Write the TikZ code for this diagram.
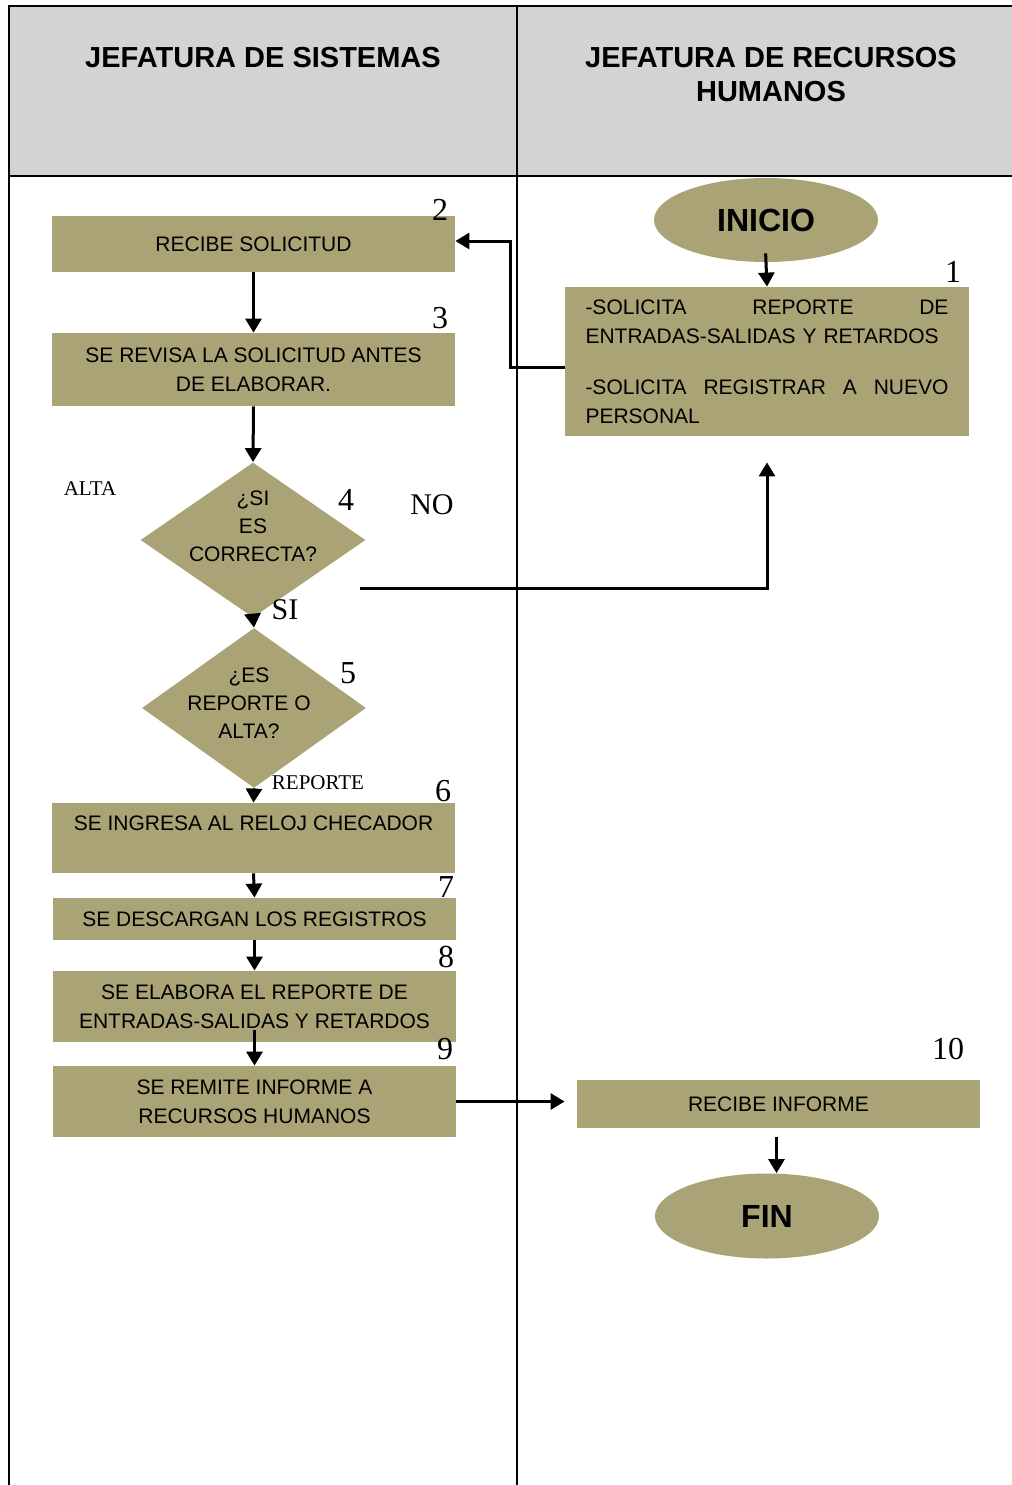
\documentclass[tikz,border=0pt]{standalone}
\usepackage{fontspec}
\setmainfont{Liberation Serif}
\newfontfamily\arial{Liberation Sans}
\usetikzlibrary{shapes,arrows.meta,positioning}
\definecolor{olivo}{HTML}{A9A375}
\definecolor{encabezado}{HTML}{D3D3D3}
\tikzset{
  caja/.style = {rectangle, fill=olivo, inner sep=0pt, align=center,
    font=\arial\fontsize{10.5}{14.5}\selectfont},% paso del proceso
  decision/.style = {diamond, fill=olivo, inner sep=0pt},% rombo de pregunta
  dtexto/.style = {align=center, font=\arial\fontsize{10.5}{14}\selectfont},
  terminal/.style = {ellipse, fill=olivo, minimum width=112pt, minimum height=42pt,
    font=\arial\bfseries\fontsize{16}{18}\selectfont},% inicio y fin
  titulo/.style = {align=center, font=\arial\bfseries\fontsize{14.5}{17}\selectfont},
  numero/.style = {font=\fontsize{16}{18}\selectfont},
  rotulo/.style = {font=\fontsize{10.5}{12}\selectfont},
  flecha/.style = {-{Triangle[length=7pt,width=8pt]}, line width=1.5pt}
}
\begin{document}
\begin{tikzpicture}[x=0.5pt,y=-0.5pt]
\useasboundingbox (0,0) rectangle (1012,1485);
% encabezado y carriles
\fill[encabezado] (9,6) rectangle (1012,176);
\draw[line width=1.2pt] (9,1485) -- (9,6) -- (1012,6);
\draw[line width=1.2pt] (9,176) -- (1012,176);
\draw[line width=1.2pt] (517,6) -- (517,1485);
\node[titulo] (tsis) at (263,58) {JEFATURA DE SISTEMAS};
\node[titulo] (trh) at (771,75) {JEFATURA DE RECURSOS\\HUMANOS};

% recursos humanos
\node[terminal] (inicio) at (766,220) {INICIO};
\node[caja, minimum width=202pt, minimum height=74.5pt, text width=181.5pt, align=left]
  (b1) at (767,361.5) {-SOLICITA\hfill REPORTE\hfill DE\\ENTRADAS-SALIDAS Y RETARDOS\\[11pt]
  -SOLICITA\hfill REGISTRAR\hfill A\hfill NUEVO\\PERSONAL};

% sistemas
\node[caja, minimum width=201.5pt, minimum height=28pt] (b2) at (253.5,244) {RECIBE SOLICITUD};
\node[caja, minimum width=201.5pt, minimum height=36.5pt] (b3) at (253.5,369.5)
  {SE REVISA LA SOLICITUD ANTES\\DE ELABORAR.};
\node[decision, minimum width=112.5pt, minimum height=77.5pt] (d4) at (253,540) {};
\node[dtexto] (d4t) at (253,526) {¿SI\\ES\\CORRECTA?};
\node[decision, minimum width=112pt, minimum height=80pt] (d5) at (254,708) {};
\node[dtexto] (d5t) at (249,703) {¿ES\\REPORTE O\\ALTA?};
\node[caja, minimum width=201.5pt, minimum height=35pt] (b6) at (253.5,838)
  {SE INGRESA AL RELOJ CHECADOR\\\mbox{}};
\node[caja, minimum width=201.5pt, minimum height=21pt] (b7) at (254.5,919)
  {SE DESCARGAN LOS REGISTROS};
\node[caja, minimum width=201.5pt, minimum height=35.5pt] (b8) at (254.5,1006.5)
  {SE ELABORA EL REPORTE DE\\ENTRADAS-SALIDAS Y RETARDOS};
\node[caja, minimum width=201.5pt, minimum height=35.5pt] (b9) at (254.5,1101.5)
  {SE REMITE INFORME A\\RECURSOS HUMANOS};
\node[caja, minimum width=201.5pt, minimum height=24pt] (b10) at (778.5,1104) {RECIBE INFORME};
\node[terminal, minimum height=42.5pt] (fin) at (767,1216) {FIN};

% numeros y rotulos
\node[numero] (n1) at (953,272) {1};
\node[numero] (n2) at (440,210) {2};
\node[numero] (n3) at (440,318) {3};
\node[numero] (n4) at (346,500) {4};
\node[numero] (n5) at (348,673) {5};
\node[numero] (n6) at (443,791) {6};
\node[numero] (n7) at (446,887) {7};
\node[numero] (n8) at (446,957) {8};
\node[numero] (n9) at (445,1049) {9};
\node[numero] (n10) at (948,1049) {10};
\node[font=\fontsize{15}{17}\selectfont] (no) at (432,505) {NO};
\node[font=\fontsize{15}{17}\selectfont] (si) at (285,610) {SI};
\node[rotulo] (alta) at (90,489) {ALTA};
\node[rotulo] (rep) at (318,783) {REPORTE};

% conectores
\coordinate (noA) at (360,588);
\draw[flecha, shorten <=-4.5pt] (inicio.south) -- (b1.north);
\draw[flecha] ([yshift=-3pt]b1.west) -- ++(-54,0) |- ([yshift=1.5pt]b2.east);
\draw[flecha] (b2.south) -- (b3.north);
\draw[flecha] (b3.south) -- (d4.north);
\draw[flecha, shorten >=13pt] (noA) -| (b1.south);
\draw[flecha] (d4.south) -- (d5.north);
\draw[flecha] (d5.south) -- (b6.north);
\draw[flecha] (b6.south) -- (b7.north);
\draw[flecha] (b7.south) -- (b8.north);
\draw[flecha, shorten <=-6pt] (b8.south) -- (b9.north);
\draw[flecha, shorten >=6pt] (b9.east) -- (b9.east -| b10.west);
\draw[flecha, shorten <=4.5pt] ([xshift=-1pt]b10.south) -- ([xshift=-1pt]b10.south |- fin.north);
\end{tikzpicture}
\end{document}
